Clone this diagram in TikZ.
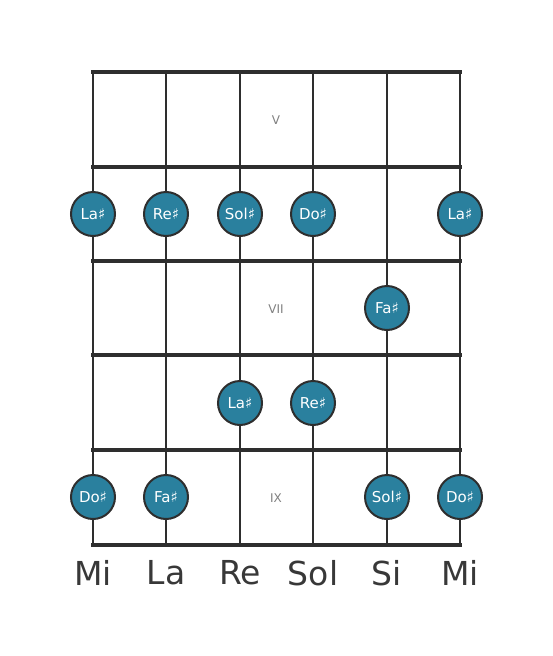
\documentclass[tikz,border=0pt]{standalone}
\usepackage{fontspec}
\setmainfont{DejaVu Sans}
\definecolor{teal1}{HTML}{2A809E}
\definecolor{dark}{HTML}{2E2E2E}
\begin{document}
\begin{tikzpicture}[x=1pt,y=-1pt,
  fret/.style={draw=dark,line width=4.5pt},
  strg/.style={draw=dark,line width=2.6pt},
  note/.style={circle,fill=teal1,draw=dark,line width=2pt,minimum size=44pt,inner sep=0pt,text=white,font=\fontsize{15}{15}\selectfont},
  strlab/.style={text=dark!95,font=\fontsize{33}{33}\selectfont},
  fnum/.style={text=gray,font=\fontsize{12}{12}\selectfont}]
\useasboundingbox (0,0) rectangle (553,656);
\foreach \i/\x in {1/93,2/166,3/240,4/313,5/387,6/460}{
  \coordinate (s\i t) at (\x,72);
  \coordinate (s\i b) at (\x,545);
  \draw[strg] (s\i t) -- (s\i b);
}
\foreach \j/\y in {0/72,1/167,2/261,3/355,4/450}{
  \coordinate (f\j l) at (91,\y);
  \coordinate (f\j r) at (462,\y);
  \draw[fret] (f\j l) -- (f\j r);
}
\coordinate (f5l) at (91,545);
\coordinate (f5r) at (462,545);
\draw[draw=dark,line width=4pt] (f5l) -- (f5r);
\node[fnum] (n5) at (276,120) {V};
\node[fnum] (n7) at (276,309) {VII};
\node[fnum] (n9) at (276,498) {IX};
\node[note] (a1) at (93,214) {La♯};
\node[note] (a2) at (166,214) {Re♯};
\node[note] (a3) at (240,214) {Sol♯};
\node[note] (a4) at (313,214) {Do♯};
\node[note] (a6) at (460,214) {La♯};
\node[note] (b5) at (387,308) {Fa♯};
\node[note] (c3) at (240,403) {La♯};
\node[note] (c4) at (313,403) {Re♯};
\node[note] (d1) at (93,497) {Do♯};
\node[note] (d2) at (166,497) {Fa♯};
\node[note] (d5) at (387,497) {Sol♯};
\node[note] (d6) at (460,497) {Do♯};
\node[strlab] (l1) at (93,573) {Mi};
\node[strlab] (l2) at (166,573) {La};
\node[strlab] (l3) at (240,573) {Re};
\node[strlab] (l4) at (313,573) {Sol};
\node[strlab] (l5) at (387,573) {Si};
\node[strlab] (l6) at (460,573) {Mi};
\end{tikzpicture}
\end{document}
